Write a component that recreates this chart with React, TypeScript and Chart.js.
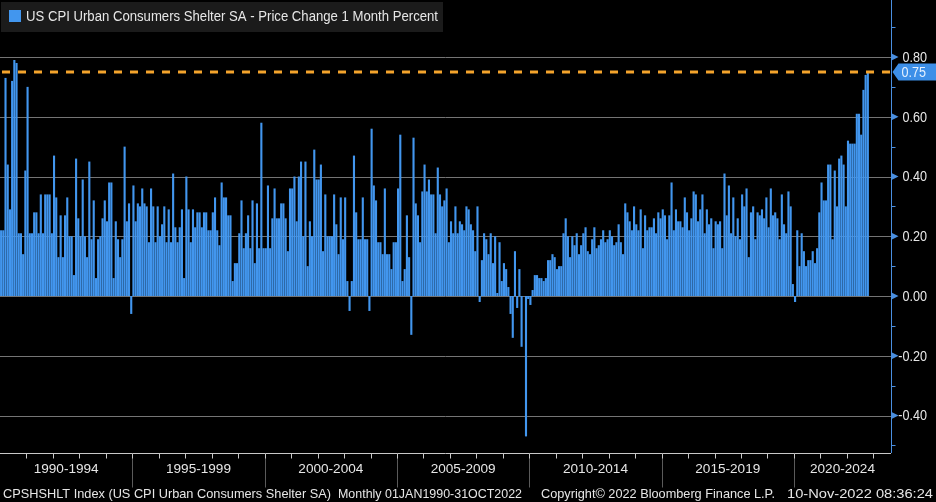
import React, { useEffect, useRef } from 'react';
import { Chart, registerables } from 'chart.js';

Chart.register(...registerables);

// Monthly % change, US CPI Urban Consumers Shelter SA, Jan 1990 .. Oct 2022
const pct_1990_01_to_1993_09 = [0.22,0.22,0.73,0.44,0.29,0.72,0.79,0.78,0.21,0.21,0.14,0.42,0.70,0.21,0.21,0.28,0.28,0.21,0.34,0.21,0.34,0.34,0.34,0.21,0.47,0.33,0.13,0.27,0.13,0.27,0.33,0.20,0.20,0.07,0.46,0.26,0.20,0.39,0.20,0.13,0.45,0.19,0.32,0.06,0.19];
const pct_1993_10_to_1997_05 = [0.20,0.26,0.32,0.25,0.38,0.38,0.06,0.25,0.19,0.13,0.19,0.50,0.25,0.31,-0.06,0.37,0.25,0.31,0.30,0.36,0.31,0.30,0.18,0.36,0.30,0.18,0.30,0.20,0.24,0.30,0.18,0.29,0.18,0.41,0.23,0.18,0.23,0.29,0.06,0.40,0.29,0.18,0.29,0.23];
const pct_1997_06_to_2001_02 = [0.28,0.28,0.23,0.28,0.28,0.22,0.22,0.28,0.33,0.22,0.17,0.38,0.33,0.33,0.27,0.27,0.05,0.11,0.11,0.21,0.32,0.16,0.21,0.27,0.16,0.32,0.11,0.31,0.16,0.58,0.16,0.16,0.37,0.16,0.26,0.36,0.26,0.26,0.31,0.31,0.26,0.15,0.36,0.36,0.40];
const pct_2001_03_to_2004_10 = [0.25,0.40,0.45,0.20,0.45,0.10,0.25,0.20,0.49,0.39,0.39,0.44,0.15,0.34,0.20,0.20,0.20,0.34,0.24,0.14,0.33,0.19,0.33,0.05,-0.05,0.05,0.47,0.28,0.19,0.19,0.33,0.19,0.19,-0.05,0.56,0.37,0.32,0.18,0.18,0.14,0.36,0.14,0.14,0.09];
const pct_2004_11_to_2008_06 = [0.18,0.18,0.36,0.54,0.05,0.09,0.27,0.13,-0.13,0.53,0.31,0.27,0.18,0.35,0.44,0.35,0.39,0.34,0.34,0.21,0.43,0.34,0.30,0.32,0.36,0.18,0.25,0.21,0.30,0.21,0.25,0.24,0.22,0.30,0.29,0.24,0.22,0.15,0.30,-0.02,0.12,0.21,0.19,0.14];
const pct_2008_07_to_2012_02 = [0.21,0.11,0.20,0.01,0.18,0.05,0.11,0.09,0.03,-0.06,-0.14,0.15,-0.04,0.09,-0.17,0.00,-0.47,-0.01,-0.03,0.02,0.07,0.07,0.06,0.06,0.05,0.06,0.12,0.12,0.14,0.13,0.09,0.10,0.10,0.21,0.26,0.20,0.13,0.20,0.17,0.21,0.14,0.17,0.21,0.23];
const pct_2012_03_to_2015_11 = [0.15,0.14,0.19,0.23,0.16,0.17,0.19,0.22,0.18,0.19,0.22,0.20,0.17,0.18,0.24,0.18,0.14,0.31,0.28,0.25,0.22,0.30,0.24,0.22,0.29,0.16,0.27,0.22,0.23,0.23,0.26,0.21,0.28,0.26,0.29,0.27,0.19,0.27,0.38,0.22,0.29,0.25,0.25,0.23,0.33];
const pct_2015_12_to_2019_07 = [0.28,0.22,0.26,0.35,0.34,0.25,0.29,0.34,0.21,0.29,0.24,0.26,0.16,0.25,0.24,0.25,0.16,0.41,0.27,0.37,0.21,0.33,0.20,0.26,0.19,0.34,0.30,0.36,0.13,0.28,0.30,0.19,0.28,0.27,0.29,0.26,0.33,0.23,0.36,0.27,0.28,0.26,0.19,0.34];
const pct_2019_08_to_2022_10 = [0.24,0.21,0.35,0.30,0.04,-0.02,0.22,0.10,0.21,0.15,0.10,0.12,0.12,0.15,0.11,0.16,0.28,0.38,0.32,0.32,0.44,0.44,0.19,0.42,0.30,0.46,0.47,0.44,0.30,0.52,0.51,0.51,0.51,0.61,0.61,0.54,0.69,0.74,0.75];

const START_YEAR = 1990;
const AXIS_MONTHS = 404; // Jan 1990 .. Aug 2023 (axis runs past last observation)
const PERIOD_LABELS = ['1990-1994', '1995-1999', '2000-2004', '2005-2009', '2010-2014', '2015-2019', '2020-2024'];
const Y_MAJOR_TICKS = [0.8, 0.6, 0.4, 0.2, 0.0, -0.2, -0.4];
const Y_MINOR_TICKS = [0.9, 0.7, 0.5, 0.3, 0.1, -0.1, -0.3, -0.5];
const Y_MIN = -0.5255;
const Y_MAX = 0.9908;
const LAST_VALUE = 0.75;
const SERIES_NAME = 'US CPI Urban Consumers Shelter SA - Price Change 1 Month Percent';
const FOOTER_PARTS = [
  'CPSHSHLT Index (US CPI Urban Consumers Shelter SA)',
  'Monthly 01JAN1990-31OCT2022',
  'Copyright\u00A9 2022 Bloomberg Finance L.P.',
  '10-Nov-2022 08:36:24',
];

const VALUES = [
  ...pct_1990_01_to_1993_09,
  ...pct_1993_10_to_1997_05,
  ...pct_1997_06_to_2001_02,
  ...pct_2001_03_to_2004_10,
  ...pct_2004_11_to_2008_06,
  ...pct_2008_07_to_2012_02,
  ...pct_2012_03_to_2015_11,
  ...pct_2015_12_to_2019_07,
  ...pct_2019_08_to_2022_10,
];

const MONTH_LABELS: string[] = [];
for (let i = 0; i < AXIS_MONTHS; i++) {
  const y = START_YEAR + Math.floor(i / 12);
  const m = (i % 12) + 1;
  MONTH_LABELS.push(`${y}-${m < 10 ? '0' + m : m}`);
}

const FONT = '"Liberation Sans", Arial, sans-serif';
const BAR_COLOR = '#4296ee';
const AXIS_BLUE = '#4a8fe0';
const GRID_COLOR = '#747474';
const TEXT_COLOR = '#e6e6e6';
const ORANGE = '#f4a42c';

function drawFit(ctx: CanvasRenderingContext2D, text: string, x: number, y: number, width: number, size: number, color: string, align: 'left' | 'center' | 'right' = 'left') {
  ctx.save();
  ctx.font = `${size}px ${FONT}`;
  const w = ctx.measureText(text).width;
  const sx = width / w;
  let x0 = x;
  if (align === 'center') x0 = x - width / 2;
  if (align === 'right') x0 = x - width;
  ctx.fillStyle = color;
  ctx.textBaseline = 'middle';
  ctx.textAlign = 'left';
  ctx.translate(x0, y);
  ctx.scale(sx, 1);
  ctx.fillText(text, 0, 0);
  ctx.restore();
}

function drawScaled(ctx: CanvasRenderingContext2D, text: string, xRight: number, y: number, size: number, sx: number, color: string) {
  ctx.save();
  ctx.font = `${size}px ${FONT}`;
  const w = ctx.measureText(text).width * sx;
  ctx.fillStyle = color;
  ctx.textBaseline = 'middle';
  ctx.textAlign = 'left';
  ctx.translate(xRight - w, y);
  ctx.scale(sx, 1);
  ctx.fillText(text, 0, 0);
  ctx.restore();
}

const bbgPlugin = {
  id: 'bbg',
  beforeDraw(chart: any) {
    const ctx = chart.ctx as CanvasRenderingContext2D;
    ctx.save();
    ctx.fillStyle = '#000';
    ctx.fillRect(0, 0, chart.width, chart.height);
    ctx.restore();
  },
  beforeDatasetsDraw(chart: any) {
    const ctx = chart.ctx as CanvasRenderingContext2D;
    const { left, right } = chart.chartArea;
    const ys = chart.scales.y;
    ctx.save();
    ctx.strokeStyle = GRID_COLOR;
    ctx.lineWidth = 1;
    for (const v of Y_MAJOR_TICKS) {
      const y = Math.round(ys.getPixelForValue(v)) + 0.5;
      ctx.beginPath();
      ctx.moveTo(left, y);
      ctx.lineTo(right, y);
      ctx.stroke();
    }
    ctx.restore();
  },
  afterDatasetsDraw(chart: any) {
    const ctx = chart.ctx as CanvasRenderingContext2D;
    const { left, right, top, bottom } = chart.chartArea;
    const ys = chart.scales.y;
    const xs = chart.scales.x;
    const slot = (right - left) / AXIS_MONTHS;
    ctx.save();

    // orange dashed last-value line
    const yl = ys.getPixelForValue(LAST_VALUE);
    ctx.strokeStyle = ORANGE;
    ctx.lineWidth = 3;
    ctx.setLineDash([8, 8]);
    ctx.lineDashOffset = -2;
    ctx.beginPath();
    ctx.moveTo(left, yl);
    ctx.lineTo(right, yl);
    ctx.stroke();
    ctx.setLineDash([]);

    // right axis line
    const ax = Math.round(right) + 0.5;
    ctx.strokeStyle = AXIS_BLUE;
    ctx.lineWidth = 1;
    ctx.beginPath();
    ctx.moveTo(ax, top);
    ctx.lineTo(ax, bottom);
    ctx.stroke();

    // minor ticks
    for (const v of Y_MINOR_TICKS) {
      const y = Math.round(ys.getPixelForValue(v)) + 0.5;
      if (y < top || y > bottom) continue;
      ctx.beginPath();
      ctx.moveTo(ax, y);
      ctx.lineTo(ax + 4, y);
      ctx.stroke();
    }
    // major ticks: triangles + labels
    for (const v of Y_MAJOR_TICKS) {
      const y = ys.getPixelForValue(v);
      ctx.fillStyle = AXIS_BLUE;
      ctx.beginPath();
      ctx.moveTo(ax, y - 3.5);
      ctx.lineTo(ax + 7, y);
      ctx.lineTo(ax, y + 3.5);
      ctx.closePath();
      ctx.fill();
      drawScaled(ctx, v.toFixed(2), 927, y + 1, 14, 0.9, TEXT_COLOR);
    }

    // last value box
    ctx.fillStyle = '#3d8fe8';
    ctx.beginPath();
    ctx.moveTo(ax + 1, yl);
    ctx.lineTo(ax + 7, yl - 8.5);
    ctx.lineTo(chart.width, yl - 8.5);
    ctx.lineTo(chart.width, yl + 8.5);
    ctx.lineTo(ax + 7, yl + 8.5);
    ctx.closePath();
    ctx.fill();
    drawScaled(ctx, LAST_VALUE.toFixed(2), 926, yl + 1, 14, 0.9, '#e4f0ff');

    // x axis line
    const by = Math.round(bottom) + 0.5;
    ctx.strokeStyle = '#c8c8c8';
    ctx.lineWidth = 1;
    ctx.beginPath();
    ctx.moveTo(left, by);
    ctx.lineTo(right, by);
    ctx.stroke();

    // year ticks + period separators
    const years = Math.ceil(AXIS_MONTHS / 12);
    for (let k = 1; k < years; k++) {
      const x = Math.round(xs.getPixelForValue(k * 12) - slot / 2) + 0.5;
      if (x > right) continue;
      if (k % 5 === 0) {
        ctx.strokeStyle = '#5a5a5a';
        ctx.beginPath();
        ctx.moveTo(x, by);
        ctx.lineTo(x, by + 34);
        ctx.stroke();
      }
      ctx.strokeStyle = '#c8c8c8';
      ctx.beginPath();
      ctx.moveTo(x, by);
      ctx.lineTo(x, by + 5);
      ctx.stroke();
    }
    // period labels
    PERIOD_LABELS.forEach((lab, i) => {
      const x0 = xs.getPixelForValue(i * 60) - slot / 2;
      const x1 = Math.min(right, xs.getPixelForValue((i + 1) * 60) - slot / 2);
      drawFit(ctx, lab, (x0 + x1) / 2, 469, 65, 13, TEXT_COLOR, 'center');
    });

    // footer
    const footerX = [3, 338, 541, 787];
    const footerW = [328, 184, 234, 146];
    FOOTER_PARTS.forEach((t, i) => drawFit(ctx, t, footerX[i], 494, footerW[i], 13, TEXT_COLOR));

    // legend box
    ctx.fillStyle = '#1b1b1b';
    ctx.fillRect(1, 2, 442, 30);
    ctx.fillStyle = BAR_COLOR;
    ctx.fillRect(9, 10, 12, 12);
    drawFit(ctx, SERIES_NAME, 26, 17, 412, 14, TEXT_COLOR);

    ctx.restore();
  },
};

export default function App() {
  const ref = useRef<HTMLCanvasElement | null>(null);
  useEffect(() => {
    document.body.style.margin = '0';
    document.body.style.background = '#000';
    const canvas = ref.current;
    if (!canvas) return;
    const chart = new Chart(canvas, {
      type: 'bar',
      data: {
        labels: MONTH_LABELS,
        datasets: [
          {
            label: SERIES_NAME,
            data: VALUES,
            backgroundColor: BAR_COLOR,
            borderWidth: 0,
            barPercentage: 1,
            categoryPercentage: 0.96,
          },
        ],
      },
      options: {
        animation: false,
        responsive: false,
        maintainAspectRatio: false,
        devicePixelRatio: 1,
        layout: { padding: 0 },
        plugins: {
          legend: { display: false },
          tooltip: { enabled: false },
          title: { display: false },
        },
        scales: {
          x: {
            type: 'category',
            offset: true,
            grid: { display: false },
            border: { display: false },
            ticks: { display: false },
            afterFit: (s: any) => { s.height = 49; },
          },
          y: {
            position: 'right',
            min: Y_MIN,
            max: Y_MAX,
            grid: { display: false },
            border: { display: false },
            ticks: { display: false },
            afterFit: (s: any) => { s.width = 45; },
          },
        },
      },
      plugins: [bbgPlugin],
    });
    return () => chart.destroy();
  }, []);
  return (
    <div style={{ position: 'absolute', left: 0, top: 0, width: 936, height: 502, background: '#000' }}>
      <canvas ref={ref} width={936} height={502} style={{ display: 'block', width: 936, height: 502 }} />
    </div>
  );
}
